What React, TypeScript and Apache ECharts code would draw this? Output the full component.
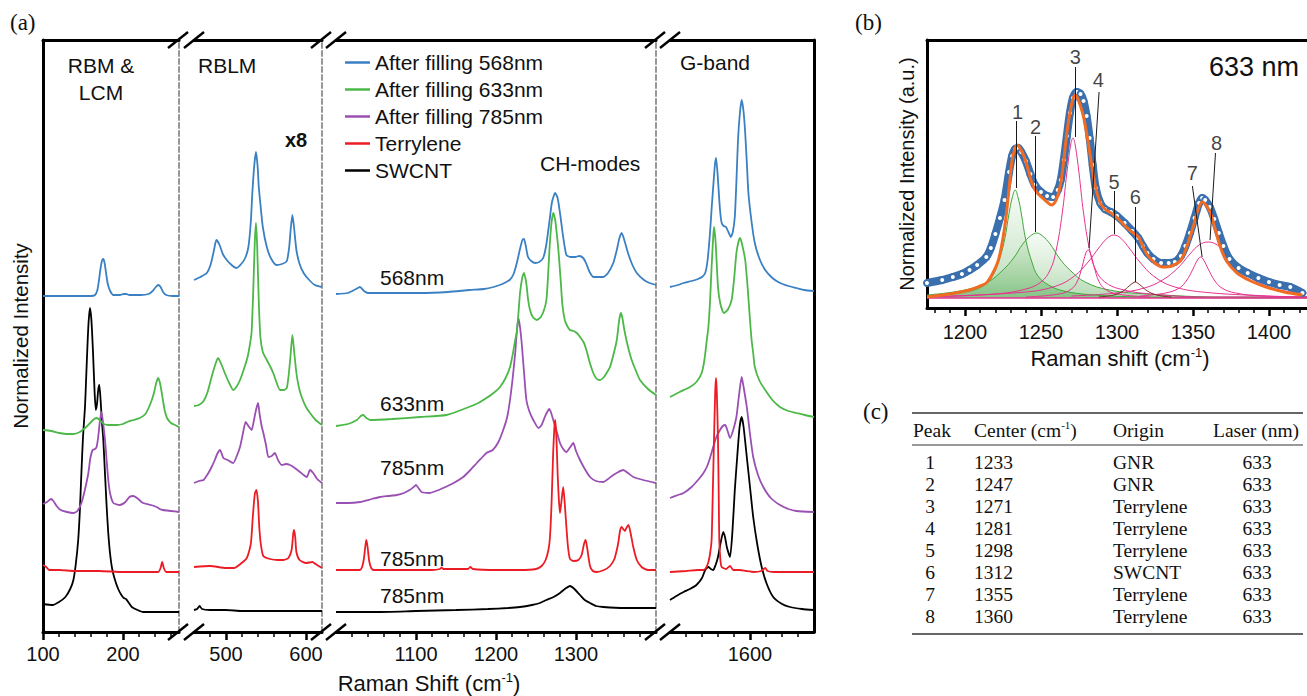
import React, { useEffect, useRef } from "react";
import * as echarts from "echarts";

const SANS = "'Liberation Sans', Arial, sans-serif";
const SERIF = "'Liberation Serif', 'Times New Roman', serif";

// ---------- Panel (a) ----------
const seriesNames = ["After filling 568nm", "After filling 633nm", "After filling 785nm", "Terrylene", "SWCNT"];
const seriesColors = ["#3a80c2", "#4cb848", "#9a4fb3", "#ec1c24", "#000000"];

const segRanges: [number, number][] = [[100, 270], [460, 620], [1000, 1400], [1500, 1680]];
const segMajorTicks = [[100, 200], [500, 600], [1100, 1200, 1300], [1600]];

const blueSeg1 = [[100,336],[130,336],[160,336],[165,337],[168,342],[170,352],[172,364],[174,372],[175.5,373],[177,369],[179,358],[181,348],[184,341],[188,337],[196,337],[201,338],[204,338],[208,337],[222,337],[232,338],[237,341],[241,345],[244,347],[247,345],[250,340],[254,337],[262,336],[270,336]];
const blueSeg2 = [[460,352],[468,355],[476,359],[481,368],[485,382],[488,392],[492,387],[496,378],[501,372],[507,367],[513,364],[519,368],[524,374],[528,385],[531,410],[533,440],[535.5,468],[537.5,480],[539.5,466],[541,445],[543,428],[546,405],[551,385],[556,374],[563,367],[570,368],[576,371],[579,385],[581,404],[583,417],[585,405],[588,382],[592,368],[597,359],[604,352],[611,347],[620,345]];
const blueSeg3 = [[1000,338],[1015,339],[1025,343],[1030,345],[1035,341],[1040,339],[1070,339],[1105,339],[1140,340],[1167,342],[1185,343],[1197,345],[1208,348],[1217,352],[1222,358],[1226,369],[1230,383],[1233,392],[1235,393],[1237,387],[1240,375],[1244,371],[1249,369],[1254,370],[1259,374],[1263,388],[1267,412],[1270,430],[1274,439],[1277,434],[1280,419],[1284,395],[1288,377],[1293,375],[1299,375],[1304,376],[1309,374],[1312.5,369],[1317,360],[1322,355],[1334,355],[1340,359],[1346.6,369],[1351,382],[1354,393],[1357,399],[1360,393],[1365,379],[1370,368],[1376,359],[1385,352],[1392,349],[1400,347]];
const blueSeg4 = [[1500,345],[1510,347],[1517,349],[1527,351],[1535,353],[1540,355],[1544,359],[1547,372],[1550,399],[1552,423],[1554,445],[1556,466],[1557.5,474],[1559.5,458],[1561.6,432],[1563,418],[1564.6,409],[1567,406],[1570,405],[1573,400],[1576,395],[1578.5,400],[1581,415],[1583,450],[1585,492],[1587.5,520],[1589.6,532],[1592,520],[1594,499],[1596,470],[1598,439],[1602,410],[1606,389],[1612,373],[1619,362],[1628,354],[1637.5,349],[1648,346],[1658,344],[1668,342],[1680,341]];

const greenSeg1 = [[100,202],[110,201],[121,199],[130,198],[138,198],[146,200],[154,205],[160,210],[164,213],[167,214],[171,212],[176,208],[182,207],[192,207],[200,208],[205,210],[213,212],[221,214],[228,218],[232,224],[236,232],[239,240],[241.5,249],[244,254],[246.5,248],[249.5,234],[252,222],[255,214],[260,209],[265,207],[270,205]];
const greenSeg2 = [[460,226],[466,227],[472,231],[477,240],[482,255],[486,266],[490,274],[494,268],[499,258],[504,249],[509,242],[513,245],[517.5,252],[522,262],[527,275],[530,288],[532,300],[534,340],[536,390],[537.5,409],[539,385],[541,330],[543,295],[546,280],[551,272],[555,266],[559,259],[563,250],[567.5,242],[572,242],[576,244],[578.5,258],[580.5,275],[583,297],[585.5,278],[588,259],[591,245],[594.6,235],[600,225],[605,219],[612,212],[620,207]];
const greenSeg3 = [[1000,206],[1015,208],[1026,212],[1031,216],[1034,217],[1038,214],[1043,212],[1070,213],[1105,215],[1138,217],[1163,224],[1178,229],[1188,234],[1197,239],[1205,245],[1212,254],[1217.5,265],[1221,278],[1224,292],[1226,300],[1228,318],[1230,339],[1233,355],[1235,359],[1238,348],[1240,333],[1242.5,322],[1246,315],[1251,312],[1256,315],[1260,322],[1263,332],[1265,355],[1267,385],[1269.5,410],[1271.6,419],[1274,412],[1276,398],[1278,382],[1281,350],[1283,327],[1286,312],[1289,306],[1292.5,302],[1297,301],[1301,299],[1306,294],[1310,289],[1313,282],[1317,270],[1321.6,259],[1326,253],[1330,252],[1335,255],[1339,260],[1342.5,265],[1347,278],[1351,292],[1354,312],[1356,319],[1358,314],[1360,304],[1363,292],[1366,282],[1369.6,272],[1375,261],[1380,252],[1390,243],[1400,237]];
const greenSeg4 = [[1500,235],[1512,240],[1525,245],[1533,250],[1539.6,259],[1543,272],[1546,292],[1548,305],[1550,330],[1552,365],[1554,395],[1555,405],[1557,390],[1560,345],[1563,328],[1567.5,319],[1572,322],[1577,332],[1580,352],[1583,379],[1585.5,390],[1587.5,394],[1590,388],[1594,372],[1597,345],[1600,312],[1602,292],[1604,279],[1606,265],[1612,251],[1619,242],[1628,232],[1637.5,225],[1648,221],[1658,219],[1668,217],[1680,215]];

const purpleSeg1 = [[100,128],[105,130],[110,133],[113,131],[117,126],[122,122],[130,120],[138,119],[143,121],[148,129],[152,141],[156.7,159],[159,173],[162,182],[165,183],[167,185],[169,195],[171,210],[173,220],[175,210],[177.5,192],[179.5,172],[181.6,152],[184,138],[188,129],[196,127],[203,130],[208,135],[213,136],[219,133],[225,129],[235,127],[242,125],[246,123],[250,122],[260,121],[270,120]];
const purpleSeg2 = [[460,149],[466,151],[472,152],[478,159],[482,165],[486,172],[489,178],[492.5,182],[496.7,174],[502,172],[509,169],[513,175],[517.5,185],[521,198],[524.6,210],[528,206],[532,202],[535,212],[537.5,222],[540,229],[542,218],[544.5,206],[546.7,199],[550,187],[553,175],[557,176],[561,179],[565,172],[569.6,167],[575,168],[580,167],[586,164],[592.5,160],[597,157],[601,155],[605,162],[609,159],[614,153],[620,149]];
const purpleSeg3 = [[1000,129],[1015,129],[1030,130],[1045,133],[1055,135],[1065,136],[1076,137],[1085,139],[1092,142],[1097,145],[1100,147],[1103,144],[1107,140],[1117,139],[1125,141],[1134,144],[1147,149],[1159,155],[1168,162],[1176,169],[1182,174],[1188,179],[1196,182],[1203,190],[1209,202],[1214,215],[1217.5,232],[1221,255],[1224,279],[1226,300],[1228,314],[1230,305],[1232,290],[1235,260],[1238,232],[1242,220],[1246.6,212],[1253,204],[1257,207],[1261,215],[1264,220],[1266.6,223],[1269,219],[1271.6,212],[1276,200],[1280,189],[1284,183],[1288,180],[1292,184],[1296.6,189],[1300,181],[1305,172],[1311,163],[1317.5,155],[1325,151],[1334,150],[1340,153],[1346.6,157],[1353,160],[1359,162],[1365,159],[1371.6,155],[1384,152],[1400,149]];
const purpleSeg4 = [[1500,134],[1510,137],[1517,139],[1527,145],[1535,152],[1541,158],[1546,165],[1550,174],[1554,185],[1558,195],[1562.5,202],[1566,206],[1569,207],[1572,201],[1575,194],[1579,202],[1583,215],[1586,235],[1589.6,255],[1592,245],[1596,225],[1600,198],[1604,175],[1610,157],[1616.6,145],[1626,134],[1637.5,127],[1648,123],[1658,121],[1680,120]];

const redSeg1 = [[100,67],[104,65],[108,62],[120,62],[140,61],[170,61],[200,60],[230,60],[244,60],[247,64],[249,70],[251,64],[254,60],[270,60]];
const redSeg2 = [[460,65],[480,66],[500,64],[510,64],[518,68],[526,74],[531,88],[533.5,115],[536,138],[538,142],[540,130],[541.6,105],[543.5,88],[546.6,76],[555,73],[565,72],[572,72],[578,74],[582,82],[584,98],[585,102],[586.5,95],[588,80],[592,72],[600,69],[608,70],[612,68],[620,64]];
const redSeg3 = [[1000,62],[1020,62],[1030,62],[1033,66],[1035,74],[1037,88],[1038,92],[1039.5,85],[1041.5,71],[1044,64],[1047,62],[1080,62],[1120,62],[1130,63],[1132,64.5],[1134,63],[1165,63],[1168,65],[1171,63],[1200,62],[1230,62],[1250,63],[1257,66],[1262,72],[1265.5,82],[1267.5,95],[1269.5,130],[1271.5,180],[1273,205],[1274,212],[1275.5,195],[1277,159],[1278.5,133],[1280,119],[1282,132],[1284,145],[1286,128],[1288,105],[1290,85],[1292.5,73],[1297,71],[1303,72],[1307,77],[1310,88],[1312,92],[1314,84],[1317.5,66],[1321,61],[1326,60],[1335,62],[1342.5,66],[1348,73],[1351,82],[1353,90],[1355,101],[1357,105],[1359,103],[1361,101],[1363,104],[1365.6,107],[1368,100],[1371.6,85],[1376,72],[1382,65],[1390,62],[1400,62]];
const redSeg4 = [[1500,60],[1520,61],[1535,62],[1541.6,62],[1545,64],[1548,70],[1550,78],[1552,92],[1553.5,140],[1555,192],[1556.5,240],[1557.5,254],[1558.5,240],[1560,192],[1561,130],[1561.6,92],[1563,72],[1564.6,65],[1570,63],[1575,66],[1579,62],[1587.5,62],[1595,61],[1605,60],[1614,61],[1619,64],[1622,61],[1630,60],[1680,60]];

const blackSeg1 = [[100,28],[112,27],[120,30],[128,35],[134,43],[138,52],[141,68],[144,92],[146,120],[148,159],[150,195],[152.5,225],[154,255],[155.5,285],[157,310],[158.7,324],[160.5,312],[162.5,280],[164.5,240],[166,222],[167.5,228],[169,242],[170.4,247],[172,232],[173.5,212],[175.4,192],[177.5,158],[179.6,125],[181.5,100],[183.75,79],[186.5,63],[190,52],[194,43],[198,37],[201,34],[203.75,33],[206.5,30],[211,25],[218,22],[225,20],[240,20],[270,20]];
const blackSeg2 = [[460,22],[464,23],[467,26],[470,23],[480,22],[500,22],[520,21],[540,21],[560,21],[580,21],[600,21],[620,21]];
const blackSeg3 = [[1000,20],[1050,20],[1100,21],[1150,22],[1190,23],[1215,24],[1230,25],[1245,27],[1255,29],[1263,32],[1272,35],[1280,39],[1286,43],[1292.5,46],[1298,43],[1305,37],[1311,32],[1317.5,29],[1325,26],[1334,25],[1360,24],[1400,24]];
const blackSeg4 = [[1500,32],[1508,36],[1517,40],[1525,43],[1533,47],[1540,54],[1544,62],[1548,65],[1551,63],[1554,62],[1557,67],[1560,75],[1563,88],[1566.6,100],[1569,94],[1571,85],[1575,75],[1578,100],[1581,142],[1584,175],[1587,205],[1589.6,215],[1592,205],[1596,175],[1600,145],[1604,115],[1609,88],[1614.6,65],[1621,48],[1629,35],[1640,28],[1650,25],[1665,23],[1680,22]];

const spectra = [
  [blueSeg1, blueSeg2, blueSeg3, blueSeg4],
  [greenSeg1, greenSeg2, greenSeg3, greenSeg4],
  [purpleSeg1, purpleSeg2, purpleSeg3, purpleSeg4],
  [redSeg1, redSeg2, redSeg3, redSeg4],
  [blackSeg1, blackSeg2, blackSeg3, blackSeg4],
];

const segLabels = ["RBM &", "LCM", "RBLM", "CH-modes", "G-band"];
const traceLabels = ["568nm", "633nm", "785nm", "785nm", "785nm"];

// ---------- Panel (b) ----------
const fitData = [[1175,15],[1185,18],[1192,21],[1198,24],[1203,28],[1208,33],[1214,41],[1217,50],[1220,64],[1223,80],[1226,98],[1229,126],[1231,142],[1233,149],[1235,150],[1237,146],[1240,137],[1243,124],[1246,113],[1250,106],[1254,102],[1258,101],[1261,108],[1263,118],[1265,138],[1267,162],[1269,185],[1271,200],[1273.5,206],[1276,204],[1278,197],[1280,182],[1282,160],[1284,133],[1286,110],[1289,95],[1292,89],[1296,86],[1300,82],[1305,75],[1310,67],[1314,60],[1317,52],[1320,45],[1324,39],[1329,35],[1334,35],[1338,36],[1342,42],[1345,52],[1348,65],[1351,80],[1354,95],[1356,100],[1358,98],[1361,91],[1364,79],[1367,65],[1370,52],[1374,39],[1380,30],[1386,25],[1393,20],[1400,16],[1407,13],[1414,11],[1422,5]];
const fitCurve = [[1175,1],[1190,4],[1203,8],[1210,12],[1214,15],[1218,24],[1222,38],[1225,60],[1227,81],[1229,110],[1231,138],[1233,150],[1234.5,153],[1236.5,149],[1239,141],[1242,126],[1244,115],[1247,106],[1251,100],[1254,96],[1257,93],[1260,98],[1263,115],[1265,138],[1267,165],[1269,185],[1271,199],[1272.5,203],[1274,200],[1276,192],[1278,181],[1281,156],[1283.5,131],[1286,110],[1289,95],[1292,89],[1296,85],[1301,79],[1306,71],[1310,66],[1314,61],[1317,52],[1320,43],[1325,35],[1330,31],[1336,32],[1342,38],[1346,52],[1350.5,73],[1353,87],[1356,96],[1358.5,93],[1361.5,85],[1364,72],[1368,51],[1372,37],[1379,25],[1388,17],[1398,11],[1410,6],[1422,3]];
const peak1 = [[1175,2],[1200,6],[1212,12],[1218,22],[1222,36],[1226,58],[1229,85],[1231,100],[1233,108],[1235,100],[1237,85],[1240,58],[1244,36],[1248,22],[1255,13],[1265,7],[1285,3],[1320,1],[1425,0]];
const peak2 = [[1175,3],[1200,8],[1215,16],[1225,28],[1232,40],[1238,54],[1243,62],[1247,65],[1251,62],[1256,54],[1262,40],[1269,28],[1279,16],[1295,8],[1320,4],[1370,1],[1425,1]];
const peak3 = [[1175,1],[1220,4],[1240,9],[1250,16],[1256,28],[1260,48],[1264,85],[1267,125],[1269.5,153],[1271,160],[1272.5,153],[1275,125],[1278,85],[1282,48],[1286,28],[1292,16],[1302,9],[1322,4],[1360,1],[1425,1]];
const peak4 = [[1240,1],[1262,4],[1270,9],[1274,17],[1277,31],[1279.5,45],[1281,48],[1282.5,45],[1285,31],[1288,17],[1292,9],[1300,4],[1322,1]];
const peak5 = [[1190,2],[1240,6],[1260,12],[1272,22],[1281,36],[1288,50],[1293,59],[1298,63],[1303,59],[1308,50],[1315,36],[1324,22],[1336,12],[1356,6],[1400,2],[1425,1]];
const peak6 = [[1288,1],[1298,3],[1304,7],[1308,12],[1310.5,15],[1312,16],[1313.5,15],[1316,12],[1320,7],[1326,3],[1336,1]];
const peak7 = [[1315,2],[1332,5],[1341,10],[1346,18],[1350,29],[1353,38],[1355,41],[1357,38],[1360,29],[1364,18],[1369,10],[1378,5],[1395,2],[1425,1]];
const peak8 = [[1270,2],[1300,5],[1318,10],[1330,18],[1340,30],[1348,44],[1354,53],[1360,56],[1366,53],[1372,44],[1380,30],[1390,18],[1402,10],[1415,6],[1425,5]];
const baseline = [[1175,0],[1425,0]];

const peakNumbers = ["1", "2", "3", "4", "5", "6", "7", "8"];
const peakLabelX = [1234.5, 1246.5, 1272.5, 1287.7, 1298, 1312, 1349.6, 1365.5];
const peakLabelY = [186, 171, 241, 218, 116, 101, 125, 155];
const leaderTop = [[1234,177],[1246.5,162],[1272.5,231],[1288.2,206],[1298,107],[1312,91],[1349.6,112],[1364.8,145]];
const leaderBottom = [[1234,110],[1246.5,66],[1272.5,161],[1281.6,50],[1298,64],[1312,16],[1356,41],[1361.2,58]];
const bMajorTicks = [1200, 1250, 1300, 1350, 1400];

// ---------- Panel (c) ----------
const tablePeak = ["1", "2", "3", "4", "5", "6", "7", "8"];
const tableCenter = ["1233", "1247", "1271", "1281", "1298", "1312", "1355", "1360"];
const tableOrigin = ["GNR", "GNR", "Terrylene", "Terrylene", "Terrylene", "SWCNT", "Terrylene", "Terrylene"];
const tableLaser = ["633", "633", "633", "633", "633", "633", "633", "633"];

// ---------- Layout ----------
const A_TOP = 40;
const A_H = 592;
const A_LEFTS = [43, 194, 336, 670];
const PX_PER_UNIT = 0.8;
const B_LEFT = 927, B_TOP = 40, B_W = 384, B_H = 268;
const plain = (v: number) => String(v);

function buildOption() {
  const grids: any[] = [];
  const xAxes: any[] = [];
  const yAxes: any[] = [];
  const series: any[] = [];
  const graphics: any[] = [];
  const widths = segRanges.map((r) => (r[1] - r[0]) * PX_PER_UNIT);

  segRanges.forEach((r, i) => {
    grids.push({ left: A_LEFTS[i], top: A_TOP, width: widths[i], height: A_H });
    const minors: number[] = [];
    for (let v = r[0] + 20; v < r[1]; v += 20) if (!segMajorTicks[i].includes(v)) minors.push(v);
    xAxes.push({
      gridIndex: i, type: "value", min: r[0], max: r[1], position: "bottom",
      axisLine: { show: true, onZero: false, lineStyle: { color: "#000", width: 3 } },
      axisTick: { show: true, customValues: segMajorTicks[i], length: 8, lineStyle: { color: "#000", width: 2.5 } },
      axisLabel: { show: true, customValues: segMajorTicks[i], formatter: plain, fontSize: 20, color: "#111", margin: 12, fontFamily: SANS },
      splitLine: { show: false },
    });
    xAxes.push({
      gridIndex: i, type: "value", min: r[0], max: r[1], position: "bottom",
      axisLine: { show: false, onZero: false },
      axisTick: { show: true, customValues: minors, length: 5, lineStyle: { color: "#000", width: 1.5 } },
      axisLabel: { show: false }, splitLine: { show: false },
    });
    xAxes.push({
      gridIndex: i, type: "value", min: r[0], max: r[1], position: "top",
      axisLine: { show: true, onZero: false, lineStyle: { color: "#000", width: 3 } },
      axisTick: { show: false }, axisLabel: { show: false }, splitLine: { show: false },
    });
    const solid = i === 0 || i === 3;
    yAxes.push({
      gridIndex: i, type: "value", min: 0, max: 592, position: i === 0 ? "left" : "right",
      axisLine: { show: true, onZero: false, lineStyle: solid ? { color: "#000", width: 3 } : { color: "#8c8c8c", width: 1.8, type: [5, 3] } },
      axisTick: { show: false }, axisLabel: { show: false }, splitLine: { show: false },
    });
  });
  yAxes.push({
    gridIndex: 0, type: "value", min: 0, max: 592, position: "right",
    axisLine: { show: true, onZero: false, lineStyle: { color: "#8c8c8c", width: 1.8, type: [5, 3] } },
    axisTick: { show: false }, axisLabel: { show: false }, splitLine: { show: false },
  });

  // Panel b axes
  grids.push({ left: B_LEFT, top: B_TOP, width: B_W, height: B_H });
  const bMinors: number[] = [];
  for (let v = 1180; v < 1425; v += 10) if (!bMajorTicks.includes(v)) bMinors.push(v);
  xAxes.push({
    gridIndex: 4, type: "value", min: 1175, max: 1425, position: "bottom",
    axisLine: { show: true, onZero: false, lineStyle: { color: "#000", width: 3 } },
    axisTick: { show: true, customValues: bMajorTicks, length: 8, lineStyle: { color: "#000", width: 2.5 } },
    axisLabel: { show: true, customValues: bMajorTicks, formatter: plain, fontSize: 20, color: "#111", margin: 14, fontFamily: SANS },
    splitLine: { show: false },
  });
  xAxes.push({
    gridIndex: 4, type: "value", min: 1175, max: 1425, position: "bottom",
    axisLine: { show: false, onZero: false },
    axisTick: { show: true, customValues: bMinors, length: 5, lineStyle: { color: "#000", width: 1.5 } },
    axisLabel: { show: false }, splitLine: { show: false },
  });
  xAxes.push({
    gridIndex: 4, type: "value", min: 1175, max: 1425, position: "top",
    axisLine: { show: true, onZero: false, lineStyle: { color: "#000", width: 3 } },
    axisTick: { show: false }, axisLabel: { show: false }, splitLine: { show: false },
  });
  yAxes.push({
    gridIndex: 4, type: "value", min: -10, max: 258, position: "left",
    axisLine: { show: true, onZero: false, lineStyle: { color: "#000", width: 3 } },
    axisTick: { show: false }, axisLabel: { show: false }, splitLine: { show: false },
  });

  // Panel a series
  const drawOrder = [4, 2, 1, 0, 3];
  drawOrder.forEach((k, oi) => {
    spectra[k].forEach((data, i) => {
      series.push({
        type: "line", name: seriesNames[k], xAxisIndex: 3 * i, yAxisIndex: i, data,
        showSymbol: false, symbol: "none", smooth: 0.2,
        lineStyle: { color: seriesColors[k], width: 1.8 }, itemStyle: { color: seriesColors[k] },
        z: 2 + oi,
      });
    });
  });

  // Panel b series
  const bx = 12, by = 5;
  const greenFill = new echarts.graphic.LinearGradient(0, 0, 0, 1, [
    { offset: 0, color: "rgba(140,200,130,0.12)" },
    { offset: 1, color: "rgba(60,160,60,0.55)" },
  ]);
  [peak1, peak2].forEach((d) => {
    series.push({
      type: "line", xAxisIndex: bx, yAxisIndex: by, data: d, showSymbol: false, symbol: "none", smooth: 0.4,
      lineStyle: { color: "#3fa83a", width: 1 }, areaStyle: { color: greenFill }, z: 2,
    });
  });
  [peak3, peak4, peak5, peak7, peak8, baseline].forEach((d) => {
    series.push({
      type: "line", xAxisIndex: bx, yAxisIndex: by, data: d, showSymbol: false, symbol: "none", smooth: 0.4,
      lineStyle: { color: "#e6338f", width: d === baseline ? 1.5 : 1 }, z: 3,
    });
  });
  series.push({
    type: "line", xAxisIndex: bx, yAxisIndex: by, data: peak6, showSymbol: false, symbol: "none", smooth: 0.4,
    lineStyle: { color: "#7a2c2c", width: 1 }, z: 3,
  });
  series.push({
    type: "line", xAxisIndex: bx, yAxisIndex: by, data: fitData, smooth: 0.3,
    showSymbol: true, symbol: "emptyCircle", symbolSize: 6,
    itemStyle: { color: "#3b70ae", borderColor: "#2d63a3", borderWidth: 1.5 },
    lineStyle: { color: "#3b70ae", width: 8 }, z: 4,
  });
  series.push({
    type: "line", xAxisIndex: bx, yAxisIndex: by, data: fitCurve, showSymbol: false, symbol: "none", smooth: 0.3,
    lineStyle: { color: "#f26b22", width: 3 }, z: 5,
  });
  series.push({
    type: "lines", coordinateSystem: "cartesian2d", xAxisIndex: bx, yAxisIndex: by,
    data: leaderTop.map((t, i) => ({ coords: [t, leaderBottom[i]] })),
    lineStyle: { color: "#1a1a1a", width: 1, opacity: 1 }, z: 6,
  });
  series.push({
    type: "scatter", xAxisIndex: bx, yAxisIndex: by, symbolSize: 2,
    itemStyle: { color: "rgba(0,0,0,0)" },
    data: peakNumbers.map((n, i) => ({ name: n, value: [peakLabelX[i], peakLabelY[i]] })),
    label: { show: true, position: "inside", formatter: "{b}", fontSize: 20, color: "#111", fontFamily: SANS },
    z: 7,
  });

  // ---------- graphics ----------
  const text = (x: number, y: number, t: string, size: number, extra: any = {}) => ({
    type: "text", x, y, z: 100,
    style: { text: t, fill: "#111", fontSize: size, fontFamily: SANS, align: "left", verticalAlign: "middle", ...extra },
  });
  graphics.push(text(10, 22, "(a)", 23, { fontFamily: SERIF }));
  graphics.push(text(101, 65, segLabels[0], 21, { align: "center" }));
  graphics.push(text(101, 92, segLabels[1], 21, { align: "center" }));
  graphics.push(text(198, 65, segLabels[2], 21));
  graphics.push(text(285, 140, "x8", 20, { fontWeight: "bold" }));
  graphics.push(text(540, 163, segLabels[3], 21));
  graphics.push(text(680, 62, segLabels[4], 21));
  const traceLabelY = [277, 403, 467, 558, 595];
  traceLabels.forEach((t, i) => graphics.push(text(380, traceLabelY[i], t, 21)));
  graphics.push({
    type: "text", x: 20, y: 336, rotation: Math.PI / 2, z: 100,
    style: { text: "Normalized Intensity", fill: "#111", fontSize: 20.5, fontFamily: SANS, align: "center", verticalAlign: "middle" },
  });
  const supRich = (size: number) => ({
    n: { fontSize: size, fontFamily: SANS, fill: "#111", lineHeight: size + 2 },
    s: { fontSize: Math.round(size * 0.6), fontFamily: SANS, fill: "#111", verticalAlign: "top", lineHeight: size * 0.6 },
  });
  graphics.push({
    type: "text", x: 429, y: 683, z: 100,
    style: { text: "{n|Raman Shift (cm}{s|-1}{n|)}", rich: supRich(22), align: "center", verticalAlign: "middle" },
  });

  // break marks
  for (let g = 0; g < 3; g++) {
    const R = A_LEFTS[g] + widths[g];
    const L = A_LEFTS[g + 1];
    [A_TOP, A_TOP + A_H].forEach((y) => {
      [R - 1, L].forEach((cx) => {
        graphics.push({
          type: "line", z: 101,
          shape: { x1: cx - 10, y1: y + 8, x2: cx + 10, y2: y - 8 },
          style: { stroke: "#000", lineWidth: 2.5 },
        });
      });
    });
  }

  // panel b texts
  graphics.push(text(855, 22, "(b)", 23, { fontFamily: SERIF }));
  graphics.push(text(1209, 67, "633 nm", 27));
  graphics.push({
    type: "text", x: 907, y: 174, rotation: Math.PI / 2, z: 100,
    style: { text: "Normalized Intensity (a.u.)", fill: "#111", fontSize: 20, fontFamily: SANS, align: "center", verticalAlign: "middle" },
  });
  graphics.push({
    type: "text", x: 1120, y: 358, z: 100,
    style: { text: "{n|Raman shift (cm}{s|-1}{n|)}", rich: supRich(22), align: "center", verticalAlign: "middle" },
  });

  // panel c table
  graphics.push(text(863, 411, "(c)", 23, { fontFamily: SERIF }));
  const rule = (y: number, w: number) => ({
    type: "line", z: 100, shape: { x1: 912, y1: y, x2: 1303, y2: y }, style: { stroke: "#333", lineWidth: w },
  });
  graphics.push(rule(413, 1.5));
  graphics.push(rule(445, 1));
  graphics.push(rule(634, 1.5));
  const st = (x: number, y: number, t: string, align = "left") => ({
    type: "text", x, y, z: 100,
    style: { text: t, fill: "#111", fontSize: 19.5, fontFamily: SERIF, align, verticalAlign: "middle" },
  });
  graphics.push(st(913, 430, "Peak"));
  graphics.push({
    type: "text", x: 974, y: 430, z: 100,
    style: {
      text: "{n|Center (cm}{s|-1}{n|)}", align: "left", verticalAlign: "middle",
      rich: {
        n: { fontSize: 19.5, fontFamily: SERIF, fill: "#111", lineHeight: 22 },
        s: { fontSize: 11, fontFamily: SERIF, fill: "#111", verticalAlign: "top", lineHeight: 12 },
      },
    },
  });
  graphics.push(st(1113, 430, "Origin"));
  graphics.push(st(1213, 430, "Laser (nm)"));
  tablePeak.forEach((p, k) => {
    const y = 462 + k * 22.14;
    graphics.push(st(930, y, p, "center"));
    graphics.push(st(974, y, tableCenter[k]));
    graphics.push(st(1113, y, tableOrigin[k]));
    graphics.push(st(1257, y, tableLaser[k], "center"));
  });

  return {
    animation: false,
    backgroundColor: "#fff",
    textStyle: { fontFamily: SANS },
    grid: grids,
    xAxis: xAxes,
    yAxis: yAxes,
    legend: {
      data: seriesNames,
      orient: "vertical",
      left: 340,
      top: 47,
      icon: "rect",
      itemWidth: 25,
      itemHeight: 2.5,
      itemGap: 6,
      selectedMode: false,
      textStyle: { fontSize: 21, color: "#111", fontFamily: SANS, lineHeight: 21 },
    },
    series,
    graphic: { elements: graphics },
  };
}

export default function App() {
  const ref = useRef<HTMLDivElement>(null);
  useEffect(() => {
    if (!ref.current) return;
    const chart = echarts.init(ref.current, undefined, { renderer: "svg" });
    chart.setOption(buildOption() as any);
    return () => chart.dispose();
  }, []);
  return (
    <div
      ref={ref}
      style={{ position: "fixed", left: 0, top: 0, width: 1307, height: 696, background: "#fff" }}
    />
  );
}
